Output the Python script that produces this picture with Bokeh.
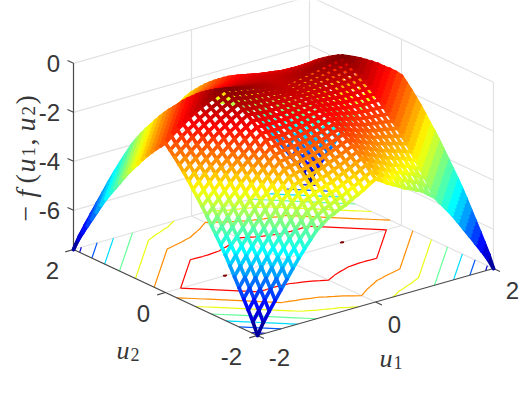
import numpy as np
import contourpy
from bokeh.plotting import figure
from bokeh.models import Range1d
from bokeh.core.properties import value
from bokeh.embed import file_html
from bokeh.resources import INLINE

# Heights -f (floor contours and silhouettes), one quadrant:
# rows u1 = 0.0, 0.1 ... 2.0, columns u2 = 0.0, 0.1 ... 2.0. The surface is mirrored in both axes.
f_u1_00 = [.50,.51,.52,.55,.58,.63,.69,.75,.83,.92,1.02,1.13,1.25,1.38,1.52,1.67,1.83,2.00,2.18,2.38,2.58]
f_u1_01 = [.45,.47,.50,.53,.58,.64,.71,.79,.87,.97,1.08,1.20,1.33,1.46,1.61,1.77,1.94,2.12,2.30,2.50,2.71]
f_u1_02 = [.40,.43,.47,.52,.58,.65,.73,.82,.92,1.03,1.15,1.28,1.42,1.57,1.72,1.89,2.07,2.26,2.46,2.66,2.88]
f_u1_03 = [.35,.39,.45,.51,.58,.66,.75,.85,.96,1.08,1.21,1.35,1.50,1.65,1.82,1.99,2.18,2.37,2.58,2.79,3.01]
f_u1_04 = [.30,.36,.42,.50,.58,.67,.77,.88,1.00,1.13,1.27,1.42,1.57,1.74,1.91,2.09,2.28,2.48,2.69,2.91,3.14]
f_u1_05 = [.25,.32,.40,.49,.58,.69,.80,.92,1.05,1.19,1.34,1.50,1.66,1.84,2.02,2.21,2.41,2.62,2.83,3.06,3.29]
f_u1_06 = [.20,.28,.37,.46,.57,.68,.80,.93,1.07,1.22,1.37,1.53,1.71,1.89,2.07,2.27,2.48,2.69,2.91,3.14,3.38]
f_u1_07 = [.15,.24,.34,.44,.55,.68,.81,.94,1.09,1.25,1.41,1.58,1.76,1.95,2.15,2.36,2.57,2.79,3.02,3.26,3.51]
f_u1_08 = [.10,.19,.30,.41,.53,.66,.80,.94,1.10,1.26,1.43,1.61,1.80,2.00,2.20,2.42,2.64,2.87,3.11,3.36,3.62]
f_u1_09 = [.05,.15,.25,.37,.50,.63,.78,.93,1.09,1.27,1.45,1.64,1.85,2.06,2.28,2.51,2.75,3.00,3.26,3.53,3.81]
f_u1_10 = [0,.10,.21,.33,.46,.60,.75,.93,1.09,1.28,1.50,1.70,1.90,2.12,2.35,2.60,2.87,3.12,3.39,3.69,4.00]
f_u1_11 = [.10,.21,.33,.46,.60,.75,.93,1.09,1.28,1.50,1.70,1.90,2.12,2.35,2.60,2.87,3.12,3.39,3.69,4.00,4.30]
f_u1_12 = [.21,.33,.46,.60,.75,.93,1.09,1.28,1.50,1.70,1.90,2.12,2.35,2.60,2.87,3.12,3.39,3.69,4.00,4.30,4.60]
f_u1_13 = [.33,.46,.60,.75,.93,1.09,1.28,1.50,1.70,1.90,2.12,2.35,2.60,2.87,3.12,3.39,3.69,4.00,4.30,4.60,4.92]
f_u1_14 = [.46,.60,.75,.93,1.09,1.28,1.50,1.70,1.90,2.12,2.35,2.60,2.87,3.12,3.39,3.69,4.00,4.30,4.60,4.92,5.27]
f_u1_15 = [.60,.75,.93,1.09,1.28,1.50,1.70,1.90,2.12,2.35,2.60,2.87,3.12,3.39,3.69,4.00,4.30,4.60,4.92,5.27,5.64]
f_u1_16 = [.75,.93,1.09,1.28,1.50,1.70,1.90,2.12,2.35,2.60,2.87,3.12,3.39,3.69,4.00,4.30,4.60,4.92,5.27,5.64,6.00]
f_u1_17 = [.93,1.09,1.28,1.50,1.70,1.90,2.12,2.35,2.60,2.87,3.12,3.39,3.69,4.00,4.30,4.60,4.92,5.27,5.64,6.00,6.37]
f_u1_18 = [1.09,1.28,1.50,1.70,1.90,2.12,2.35,2.60,2.87,3.12,3.39,3.69,4.00,4.30,4.60,4.92,5.27,5.64,6.00,6.37,6.74]
f_u1_19 = [1.28,1.50,1.70,1.90,2.12,2.35,2.60,2.87,3.12,3.39,3.69,4.00,4.30,4.60,4.92,5.27,5.64,6.00,6.37,6.74,7.13]
f_u1_20 = [1.50,1.70,1.90,2.12,2.35,2.60,2.87,3.12,3.39,3.69,4.00,4.30,4.60,4.92,5.27,5.64,6.00,6.37,6.74,7.13,7.60]

u_half = [0.1 * i for i in range(21)]
z_floor = -7.6
z_ticks = [0, -2, -4, -6]
z_tick_labels = ["0", "-2", "-4", "-6"]
u_ticks = [-2, 0, 2]
u_tick_labels = ["-2", "0", "2"]
contour_levels = [-7, -6, -5, -4, -3, -2, -1, -0.02]

quad = np.array([f_u1_00, f_u1_01, f_u1_02, f_u1_03, f_u1_04, f_u1_05, f_u1_06,
                 f_u1_07, f_u1_08, f_u1_09, f_u1_10, f_u1_11, f_u1_12, f_u1_13,
                 f_u1_14, f_u1_15, f_u1_16, f_u1_17, f_u1_18, f_u1_19, f_u1_20])
idx = np.abs(np.arange(-20, 21))
Z = -quad[np.ix_(idx, idx)]          # Z[i, j]: u1 index i, u2 index j
u = np.concatenate([-np.array(u_half[:0:-1]), np.array(u_half)])


def project(a, b, c):
    """MATLAB-like 3-D view: azimuth about 38 deg, elevation about 21 deg."""
    a, b, c = np.asarray(a, float), np.asarray(b, float), np.asarray(c, float)
    return (283 + 59 * a - 46 * b,
            258.5 - 16.75 * a - 21.5 * b - 24.5 * (c - z_floor))


def depth(a, b, c):
    return 2.56 * (-16.75 * a - 21.5 * b) + 9.58 * c


def jet(v):
    t = np.clip((np.asarray(v, float) - z_floor) / (0 - z_floor), 0, 1)
    r = np.clip(np.minimum(4 * t - 1.5, -4 * t + 4.5), 0, 1)
    g = np.clip(np.minimum(4 * t - 0.5, -4 * t + 3.5), 0, 1)
    b = np.clip(np.minimum(4 * t + 0.5, -4 * t + 2.5), 0, 1)
    return ["#%02x%02x%02x" % (int(x * 255), int(y * 255), int(w * 255))
            for x, y, w in zip(np.atleast_1d(r), np.atleast_1d(g), np.atleast_1d(b))]


p = figure(width=520, height=402, output_backend="svg", toolbar_location=None,
           x_range=Range1d(0, 520), y_range=Range1d(402, 0),
           x_axis_location=None, y_axis_location=None, min_border=0,
           outline_line_color=None)
p.grid.visible = False


def seg(pts, color, width):
    a = np.array(pts, float)
    x, y = project(a[:, 0], a[:, 1], a[:, 2])
    p.line(x, y, line_color=color, line_width=width)


GRID = "#e2e2e2"
DARK = "#4a4a4a"
# back walls and floor grid
for z in z_ticks:
    seg([(-2, 2, z), (2, 2, z), (2, -2, z)], GRID, 1.2)
for a, b in [(0, 2), (2, 2), (2, 0), (2, -2)]:
    seg([(a, b, z_floor), (a, b, 0)], GRID, 1.2)
seg([(-2, 2, z_floor), (2, 2, z_floor), (2, -2, z_floor)], GRID, 1.2)
seg([(0, -2, z_floor), (0, 2, z_floor)], GRID, 1.2)
seg([(-2, 0, z_floor), (2, 0, z_floor)], GRID, 1.2)

# floor contours
gen = contourpy.contour_generator(x=u, y=u, z=Z.T)
for lev in contour_levels:
    col = jet([lev])[0]
    for ln in gen.lines(lev):
        x, y = project(ln[:, 0], ln[:, 1], np.full(len(ln), z_floor))
        p.line(x, y, line_color=col, line_width=1.2)

# axes and ticks
seg([(-2, 2, z_floor), (-2, 2, 0)], DARK, 1.2)
seg([(-2, 2, z_floor), (-2, -2, z_floor), (2, -2, z_floor)], DARK, 1.2)
for z in z_ticks:
    seg([(-2, 2, z), (-2, 2.13, z)], DARK, 1.2)
for t in u_ticks:
    seg([(-2, t, z_floor), (-2.14, t, z_floor)], DARK, 1.2)
    seg([(t, -2, z_floor), (t, -2.14, z_floor)], DARK, 1.2)

# surface mesh, far lines first
U1, U2 = np.meshgrid(u, u, indexing="ij")
a0 = np.concatenate([U1[:-1, :].ravel(), U1[:, :-1].ravel()])
a1 = np.concatenate([U1[1:, :].ravel(), U1[:, 1:].ravel()])
b0 = np.concatenate([U2[:-1, :].ravel(), U2[:, :-1].ravel()])
b1 = np.concatenate([U2[1:, :].ravel(), U2[:, 1:].ravel()])
c0 = np.concatenate([Z[:-1, :].ravel(), Z[:, :-1].ravel()])
c1 = np.concatenate([Z[1:, :].ravel(), Z[:, 1:].ravel()])
order = np.argsort(depth((a0 + a1) / 2, (b0 + b1) / 2, (c0 + c1) / 2))
x0, y0 = project(a0[order], b0[order], c0[order])
x1, y1 = project(a1[order], b1[order], c1[order])
p.segment(x0, y0, x1, y1, line_color=jet((c0[order] + c1[order]) / 2),
          line_width=3.6, line_cap="round")

# tick labels
SANS = value("Liberation Sans")
SERIF = value("Liberation Serif")
INK = "#363636"
for z, s in zip(z_ticks, z_tick_labels):
    x, y = project(-2, 2, z)
    p.text([float(x) - 13.5], [float(y)], text=[s], text_font=SANS, text_font_size="24px",
           text_color=INK, text_align="right", text_baseline="middle")
for t, s, dx in zip(u_ticks, u_tick_labels, [-26, -22, -21]):
    x, y = project(-2, t, z_floor)
    p.text([float(x) + dx], [float(y) + 21], text=[s], text_font=SANS,
           text_font_size="24px", text_color=INK, text_align="center", text_baseline="middle")
for t, s, dx in zip(u_ticks, u_tick_labels, [22, 19, 19]):
    x, y = project(t, -2, z_floor)
    p.text([float(x) + dx], [float(y) + 22], text=[s], text_font=SANS, text_font_size="24px",
           text_color=INK, text_align="center", text_baseline="middle")


def piece(x, y, s, size, style="normal", angle=0.0):
    p.text([x], [y], text=[s], text_font=SERIF, text_font_size=f"{size}px",
           text_font_style=style, text_color=INK, text_align="left",
           text_baseline="alphabetic", angle=angle)


piece(116, 350, "u", 26, "italic")
piece(130, 354, "2", 18)
piece(379, 358, "u", 26, "italic")
piece(393, 362, "1", 18)

rot = np.pi / 2
for y, s, size, style, x in [(221, "\u2212", 28, "normal", 25), (197, "f", 28, "italic", 25),
                             (183, "(", 28, "normal", 25), (172, "u", 28, "italic", 25),
                             (156, "1", 19, "normal", 28), (145, ",", 28, "normal", 25),
                             (131, "u", 28, "italic", 25), (115, "2", 19, "normal", 28),
                             (104, ")", 28, "normal", 25)]:
    piece(x, y, s, size, style, rot)

open("out.html", "w").write(file_html(p, INLINE))
